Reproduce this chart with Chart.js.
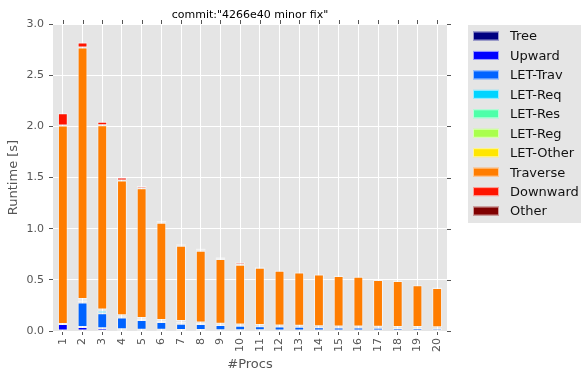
<!DOCTYPE html>
<html lang="en">
<head>
    <meta charset="UTF-8">
    <title>Runtime breakdown</title>
    <script src="https://cdn.jsdelivr.net/npm/chart.js"></script>
    <style>
        body { margin: 0; background: #fff; }
        #wrap { width: 581px; height: 371px; }
    </style>
</head>
<body>
    <div id="wrap"><canvas id="runtimeChart" width="581" height="371"></canvas></div>

    <script>
        // Data
        const procs = ['1','2','3','4','5','6','7','8','9','10','11','12','13','14','15','16','17','18','19','20'];
        const tree     = [0.004, 0.004, 0.003, 0.003, 0.003, 0.003, 0.002, 0.002, 0.002, 0.002, 0.002, 0.002, 0.002, 0.002, 0.002, 0.002, 0.002, 0.002, 0.002, 0.002];
        const upward   = [0.065, 0.035, 0.025, 0.015, 0.010, 0.010, 0.008, 0.007, 0.006, 0.005, 0.005, 0.004, 0.004, 0.004, 0.003, 0.003, 0.003, 0.003, 0.003, 0.003];
        const letTrav  = [0.000, 0.240, 0.145, 0.115, 0.095, 0.075, 0.060, 0.060, 0.050, 0.045, 0.040, 0.037, 0.035, 0.030, 0.030, 0.028, 0.026, 0.025, 0.024, 0.022];
        const letReq   = [0.000, 0.020, 0.025, 0.010, 0.010, 0.010, 0.020, 0.008, 0.006, 0.006, 0.005, 0.005, 0.004, 0.004, 0.004, 0.004, 0.004, 0.004, 0.004, 0.004];
        const letRes   = [0.000, 0.005, 0.005, 0.004, 0.003, 0.003, 0.003, 0.002, 0.002, 0.002, 0.002, 0.002, 0.002, 0.002, 0.002, 0.002, 0.002, 0.002, 0.002, 0.002];
        const letReg   = [0.000, 0.003, 0.003, 0.002, 0.002, 0.002, 0.002, 0.001, 0.001, 0.001, 0.001, 0.001, 0.001, 0.001, 0.001, 0.001, 0.001, 0.001, 0.001, 0.001];
        const letOther = [0.000, 0.005, 0.005, 0.004, 0.004, 0.004, 0.003, 0.003, 0.003, 0.003, 0.003, 0.003, 0.003, 0.003, 0.003, 0.003, 0.003, 0.003, 0.003, 0.003];
        const traverse = [1.940, 2.458, 1.800, 1.317, 1.268, 0.952, 0.736, 0.702, 0.634, 0.583, 0.561, 0.534, 0.521, 0.505, 0.493, 0.487, 0.457, 0.449, 0.407, 0.383];
        const downward = [0.120, 0.050, 0.035, 0.030, 0.022, 0.019, 0.014, 0.018, 0.017, 0.022, 0.006, 0.005, 0.005, 0.005, 0.005, 0.005, 0.004, 0.004, 0.004, 0.004];
        const other    = [0.003, 0.003, 0.003, 0.003, 0.003, 0.003, 0.003, 0.005, 0.005, 0.005, 0.002, 0.002, 0.002, 0.002, 0.002, 0.002, 0.002, 0.002, 0.002, 0.002];

        const seriesNames  = ['Tree', 'Upward', 'LET-Trav', 'LET-Req', 'LET-Res', 'LET-Reg', 'LET-Other', 'Traverse', 'Downward', 'Other'];
        const seriesValues = [tree, upward, letTrav, letReq, letRes, letReg, letOther, traverse, downward, other];
        // jet colormap, 10 steps
        const seriesColors = ['#000080', '#0000FF', '#0063FF', '#00D4FF', '#4EFFA9', '#A9FF4D', '#FFE600', '#FF7D00', '#FF1400', '#800000'];

        const FONT = 'DejaVu Sans';

        // Plot background, outer tick marks on top/right, title and legend box
        const decorations = {
            id: 'decorations',
            beforeDraw(chart) {
                const {ctx, chartArea: a} = chart;
                ctx.save();
                ctx.fillStyle = '#E5E5E5';
                ctx.fillRect(a.left, a.top, a.right - a.left, a.bottom - a.top);
                ctx.restore();
            },
            afterDraw(chart) {
                const {ctx, chartArea: a, scales} = chart;
                ctx.save();
                ctx.strokeStyle = '#555555';
                ctx.lineWidth = 1;
                ctx.beginPath();
                scales.x.ticks.forEach((t, i) => {
                    const x = Math.round(scales.x.getPixelForTick(i)) + 0.5;
                    ctx.moveTo(x, a.top);
                    ctx.lineTo(x, a.top - 4);
                });
                scales.y.ticks.forEach((t, i) => {
                    const y = Math.round(scales.y.getPixelForTick(i)) + 0.5;
                    ctx.moveTo(a.right, y);
                    ctx.lineTo(a.right + 4, y);
                });
                ctx.stroke();

                // title
                ctx.fillStyle = '#000000';
                ctx.font = '11px "' + FONT + '"';
                ctx.textAlign = 'center';
                ctx.textBaseline = 'middle';
                ctx.fillText('commit:"4266e40 minor fix"', (a.left + a.right) / 2, 15);

                // legend
                const lx = 468, ly = 25;
                ctx.fillStyle = '#E5E5E5';
                ctx.fillRect(lx, ly, 130, 198);
                ctx.font = '13px "' + FONT + '"';
                ctx.textAlign = 'left';
                chart.data.datasets.forEach((ds, i) => {
                    const cy = 36 + i * 19.45;
                    ctx.fillStyle = ds.backgroundColor;
                    ctx.fillRect(473, cy - 4.5, 26, 9);
                    ctx.strokeStyle = 'rgba(255,255,255,0.6)';
                    ctx.strokeRect(473.5, cy - 4, 25, 8);
                    ctx.fillStyle = '#111111';
                    ctx.fillText(ds.label, 510, cy + 1);
                });
                ctx.restore();
            }
        };

        const ctx = document.getElementById('runtimeChart').getContext('2d');
        new Chart(ctx, {
            type: 'bar',
            data: {
                labels: procs,
                datasets: seriesNames.map((name, i) => ({
                    label: name,
                    data: seriesValues[i],
                    backgroundColor: seriesColors[i],
                    borderColor: 'rgba(255,255,255,0.55)',
                    borderWidth: 1,
                    borderSkipped: false,
                    barPercentage: 0.5,
                    categoryPercentage: 1.0
                }))
            },
            options: {
                responsive: false,
                animation: false,
                layout: { padding: { left: 0, top: 24, right: 134, bottom: 0 } },
                plugins: {
                    legend: { display: false },
                    tooltip: { enabled: false }
                },
                scales: {
                    x: {
                        stacked: true,
                        afterFit: s => { s.height = 40; },
                        border: { display: false },
                        grid: { color: '#FFFFFF', lineWidth: 1, offset: false, tickColor: '#555555', tickLength: 4 },
                        ticks: {
                            color: '#555555', font: { family: FONT, size: 11 },
                            minRotation: 90, maxRotation: 90, autoSkip: false, padding: 3
                        },
                        title: {
                            display: true, text: '#Procs', color: '#555555',
                            font: { family: FONT, size: 13, lineHeight: 1 }, padding: { top: 0, bottom: 0 }
                        }
                    },
                    y: {
                        stacked: true,
                        min: 0, max: 3,
                        afterFit: s => { s.width = 53; },
                        border: { display: false },
                        grid: { color: '#FFFFFF', lineWidth: 1, tickColor: '#555555', tickLength: 4 },
                        ticks: {
                            stepSize: 0.5, color: '#555555', font: { family: FONT, size: 11 }, padding: 5,
                            callback: v => v.toFixed(1)
                        },
                        title: {
                            display: true, text: 'Runtime [s]', color: '#555555',
                            font: { family: FONT, size: 13 }, padding: { top: 6, bottom: 0 }
                        }
                    }
                }
            },
            plugins: [decorations]
        });
    </script>
</body>
</html>
